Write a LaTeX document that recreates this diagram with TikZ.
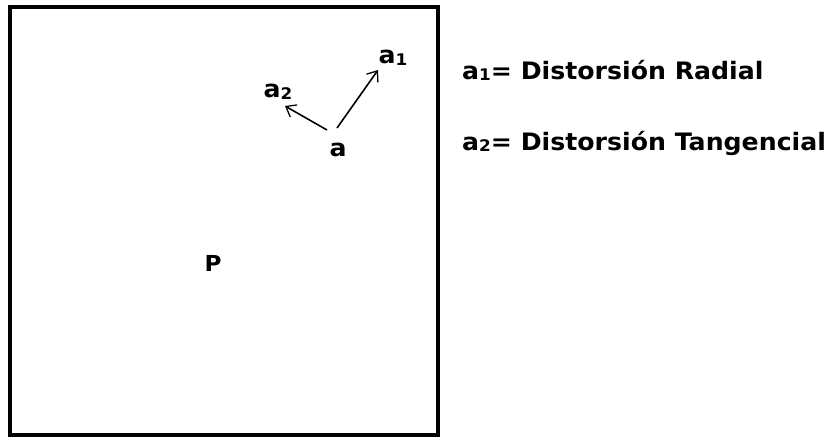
\documentclass[tikz,border=0pt]{standalone}
\usepackage{fontspec}
\setmainfont{DejaVu Sans}[FakeStretch=1.05]
\usetikzlibrary{arrows.meta}
\newcommand{\subd}[1]{\raisebox{-1.5pt}{\fontsize{16}{18}\selectfont #1}}
\begin{document}
\begin{tikzpicture}[x=1pt,y=-1pt,
  lbl/.style={font=\bfseries\fontsize{24}{28}\selectfont, inner sep=0pt},
  vec/.style={line width=1.6pt, -{Straight Barb[length=9pt,width=14pt,line width=1.3pt]}}]
\useasboundingbox (0,0) rectangle (835,437);
\draw[line width=4pt] (10,7) rectangle (438,435);
\node[lbl] (a) at (338,150) {a};
\node[lbl] (a1) at (393,58) {a\subd{1}};
\node[lbl] (a2) at (278,92) {a\subd{2}};
\node[lbl, font=\bfseries\fontsize{22}{26}\selectfont] (p) at (213,263) {P};
\coordinate (s1) at (337,128);
\coordinate (e1) at (378,70);
\coordinate (s2) at (327,130);
\coordinate (e2) at (285,106);
\draw[vec] (s1) -- (e1);
\draw[vec] (s2) -- (e2);
\node[lbl, anchor=base west] (t1) at (462,79) {a\subd{1}= Distorsión Radial};
\node[lbl, anchor=base west] (t2) at (462,150) {a\subd{2}= Distorsión Tangencial};
\end{tikzpicture}
\end{document}
